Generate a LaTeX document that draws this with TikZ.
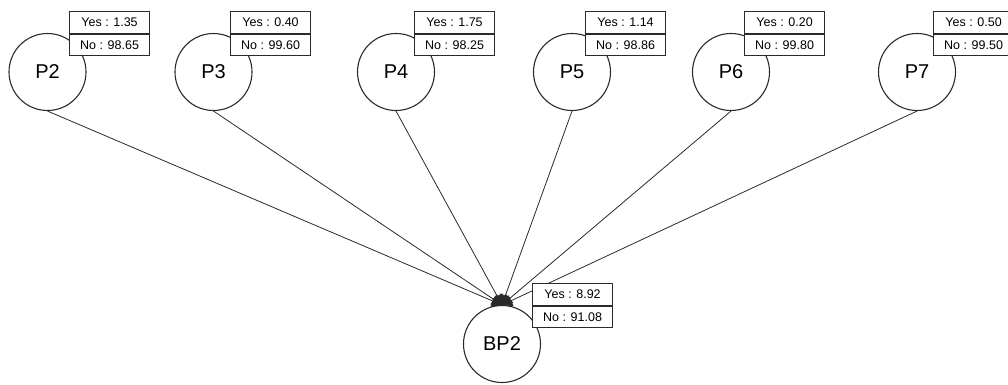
\documentclass[tikz,border=0pt]{standalone}
\usepackage{fontspec}
\setmainfont{Liberation Sans}
\usetikzlibrary{positioning,arrows.meta}
\definecolor{linegray}{HTML}{2A2A2A}

\begin{document}
\begin{tikzpicture}[x=1pt,y=-1pt,
		varnode/.style={circle,draw=linegray,line width=1.1pt,minimum size=77pt,inner sep=0pt,font=\fontsize{20}{24}\selectfont},
		probcell/.style={draw=linegray,fill=white,line width=1.1pt,minimum width=80pt,minimum height=21.5pt,inner sep=0pt,font=\fontsize{12.5}{14}\selectfont},
		link/.style={draw=linegray,line width=0.8pt,-{Triangle[length=10pt,width=12pt]}}]
		\useasboundingbox (0,0) rectangle (1008,384);
		
		\node[varnode] (P2) at (47.5,72) {P2};
		\node[varnode] (P3) at (213.5,72) {P3};
		\node[varnode] (P4) at (396,72) {P4};
		\node[varnode] (P5) at (572,72) {P5};
		\node[varnode] (P6) at (731,72) {P6};
		\node[varnode] (P7) at (917,72) {P7};
		\node[varnode] (BP2) at (502,344) {BP2};
		
		\draw[link] (P2.south) -- (BP2.north);
		\draw[link] (P3.south) -- (BP2.north);
		\draw[link] (P4.south) -- (BP2.north);
		\draw[link] (P5.south) -- (BP2.north);
		\draw[link] (P6.south) -- (BP2.north);
		\draw[link] (P7.south) -- (BP2.north);
		
		\node[probcell,anchor=north west] (P2yes) at (69,11) {Yes : 1.35};
		\node[probcell] (P2no) [below=0pt of P2yes] {No : 98.65};
		\node[probcell,anchor=north west] (P3yes) at (230,11) {Yes : 0.40};
		\node[probcell] (P3no) [below=0pt of P3yes] {No : 99.60};
		\node[probcell,anchor=north west] (P4yes) at (414,11) {Yes : 1.75};
		\node[probcell] (P4no) [below=0pt of P4yes] {No : 98.25};
		\node[probcell,anchor=north west] (P5yes) at (585,11) {Yes : 1.14};
		\node[probcell] (P5no) [below=0pt of P5yes] {No : 98.86};
		\node[probcell,anchor=north west] (P6yes) at (744,11) {Yes : 0.20};
		\node[probcell] (P6no) [below=0pt of P6yes] {No : 99.80};
		\node[probcell,anchor=north west] (P7yes) at (933,11) {Yes : 0.50};
		\node[probcell] (P7no) [below=0pt of P7yes] {No : 99.50};
		\node[probcell,anchor=north west] (BP2yes) at (532,283) {Yes : 8.92};
		\node[probcell] (BP2no) [below=0pt of BP2yes] {No : 91.08};
\end{tikzpicture}
\end{document}
